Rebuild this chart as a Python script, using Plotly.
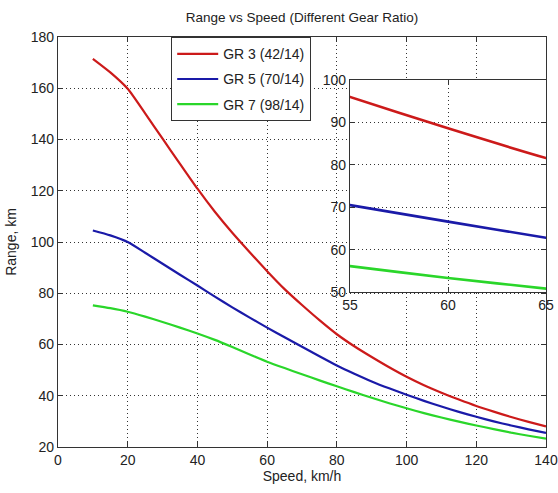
import plotly.graph_objects as go

speed = [10, 15, 20, 25, 30, 35, 40, 45, 50, 55, 60, 65, 70, 75, 80, 85, 90, 95, 100, 105, 110, 115, 120, 125, 130, 135, 140]
gr3 = [171.5, 166.2, 159.8, 150.2, 140.3, 130.5, 120.8, 111.8, 103.6, 96.0, 88.6, 81.6, 75.4, 69.5, 64.0, 59.3, 55.1, 51.1, 47.4, 44.1, 41.2, 38.5, 36.0, 33.8, 31.7, 29.8, 28.0]
gr5 = [104.5, 102.6, 100.0, 95.8, 91.5, 87.2, 83.0, 78.7, 74.5, 70.5, 66.6, 62.8, 59.1, 55.4, 51.8, 48.6, 45.6, 42.9, 40.4, 38.0, 35.8, 33.7, 31.8, 30.0, 28.4, 26.9, 25.5]
gr7 = [75.3, 74.2, 72.8, 70.9, 68.8, 66.6, 64.3, 61.8, 59.0, 56.1, 53.3, 50.8, 48.4, 46.0, 43.7, 41.4, 39.2, 37.1, 35.1, 33.2, 31.5, 29.9, 28.4, 27.0, 25.6, 24.4, 23.3]

names = ["GR 3 (42/14)", "GR 5 (70/14)", "GR 7 (98/14)"]
colors = ["#cc1a1a", "#1a1aa8", "#2ad62a"]
series = [gr3, gr5, gr7]

main_x_ticks = [0, 20, 40, 60, 80, 100, 120, 140]
main_y_ticks = [20, 40, 60, 80, 100, 120, 140, 160, 180]
inset_x_ticks = [55, 60, 65]
inset_y_ticks = [50, 60, 70, 80, 90, 100]

FONT = "Liberation Sans, Arial, sans-serif"
TXT = "#222"

fig = go.Figure()
for i, (n, c, s) in enumerate(zip(names, colors, series)):
    fig.add_trace(go.Scatter(x=speed, y=s, mode="lines", name=n, legendgroup=f"g{i}",
                             line=dict(color=c, width=2.2, shape="spline", smoothing=0.6),
                             xaxis="x", yaxis="y"))
for n, c, s in zip(names, colors, series):
    fig.add_trace(go.Scatter(x=speed, y=s, mode="lines", name=n, showlegend=False,
                             line=dict(color=c, width=2.6, shape="spline", smoothing=0.6),
                             xaxis="x2", yaxis="y2"))

axis_common = dict(showline=True, linecolor="#333", linewidth=1.2, mirror="ticks",
                   ticks="inside", ticklen=5, tickcolor="#333",
                   showgrid=True, gridcolor="#333", griddash="1px,3px", gridwidth=1,
                   zeroline=False, automargin=False, ticklabeloverflow="allow",
                   tickfont=dict(family=FONT, size=14, color=TXT))

L, R, T, B = 58, 12, 37, 46
W, H = 558, 493
pw, ph = W - L - R, H - T - B
inset_x_dom = [(350 - L) / pw, 1]
inset_y_dom = [(H - B - 292) / ph, (H - B - 80) / ph]

fig.update_layout(
    width=W, height=H,
    paper_bgcolor="white", plot_bgcolor="white",
    margin=dict(l=L, r=R, t=T, b=B),
    title=dict(text="Range vs Speed (Different Gear Ratio)", x=(L + W - R) / 2 / W, xanchor="center",
               y=1 - 17 / H, yanchor="middle", font=dict(family=FONT, size=13.5, color=TXT)),
    xaxis=dict(range=[0, 140], tickvals=main_x_ticks, domain=[0, 1],
               title=dict(text="Speed, km/h", font=dict(family=FONT, size=14, color=TXT), standoff=2),
               **axis_common),
    yaxis=dict(range=[20, 180], tickvals=main_y_ticks, domain=[0, 1],
               title=dict(text="Range, km", font=dict(family=FONT, size=14, color=TXT), standoff=10),
               **axis_common),
    xaxis2=dict(range=[55, 65], tickvals=inset_x_ticks, domain=inset_x_dom, anchor="y2",
                **axis_common),
    yaxis2=dict(range=[50, 100], tickvals=inset_y_ticks, domain=inset_y_dom,
                anchor="x2", **axis_common),
    legend=dict(x=(171 - L) / pw, y=1, xanchor="left", yanchor="top",
                bgcolor="white", bordercolor="#333", borderwidth=1.2, itemwidth=41,
                font=dict(family=FONT, size=14, color=TXT), tracegroupgap=4),
    showlegend=True,
    shapes=[dict(type="rect", xref="x2 domain", yref="y2 domain",
                 x0=0, x1=1, y0=0, y1=1,
                 fillcolor="white", line=dict(width=0), layer="below")],
)

fig.write_html("out.html", config={"displayModeBar": False},
               post_script="document.body.style.margin='0';")
